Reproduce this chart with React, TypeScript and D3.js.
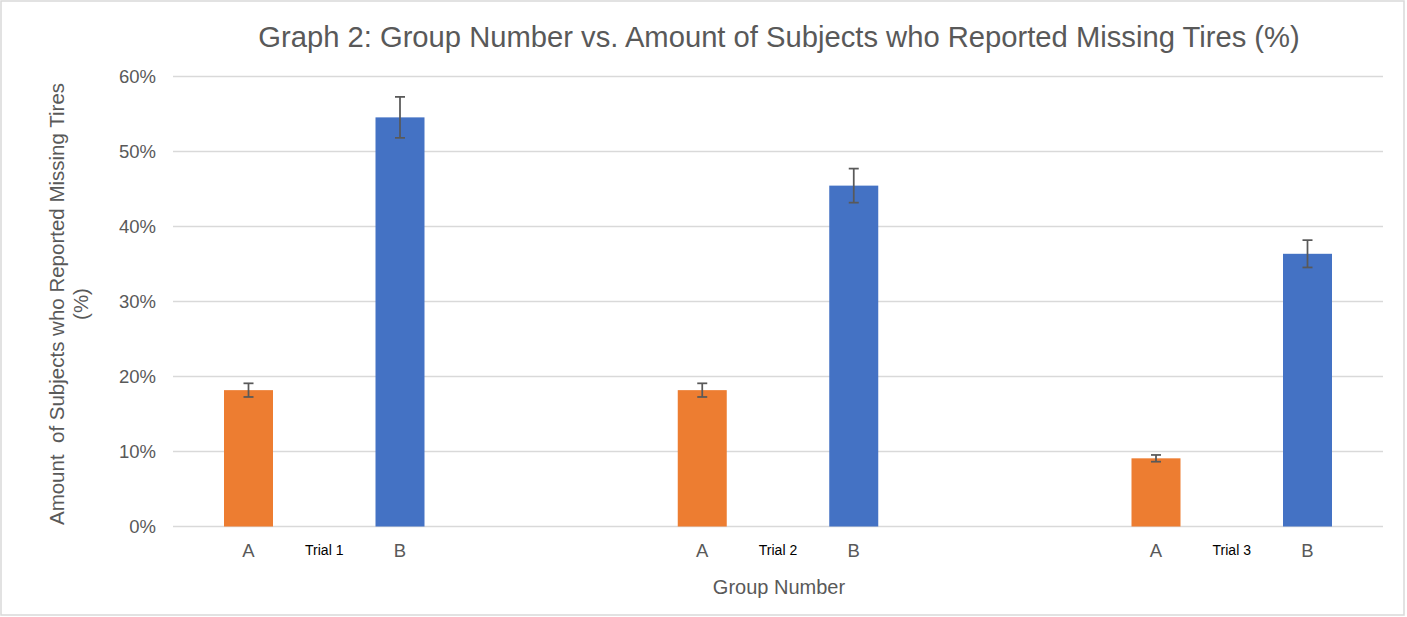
import React from "react";
import * as d3 from "d3";

const trials = ["Trial 1", "Trial 2", "Trial 3"];
const groups = ["A", "", "B"];
const valuesA = [18.18, 18.18, 9.09];
const valuesB = [54.55, 45.45, 36.36];
const errorsA = [0.91, 0.91, 0.45];
const errorsB = [2.73, 2.27, 1.82];
const yTicks = [0, 10, 20, 30, 40, 50, 60];

const W = 1407;
const H = 617;
const FONT = "'Liberation Sans', Arial, sans-serif";
const GRAY = "#595959";
const ORANGE = "#ED7D31";
const BLUE = "#4472C4";

export default function App() {
  const plotLeft = 173;
  const plotRight = 1383;
  const y = d3.scaleLinear().domain([0, 60]).range([526.5, 76.5]);
  const xTrial = d3.scalePoint<string>().domain(trials).range([324.25, 1231.75]);
  const xSub = d3.scalePoint<string>().domain(groups).range([-75.75, 75.75]);
  const barW = 49;

  const bars: { trial: string; grp: string; v: number; e: number; color: string }[] = [];
  trials.forEach((t, i) => {
    bars.push({ trial: t, grp: "A", v: valuesA[i], e: errorsA[i], color: ORANGE });
    bars.push({ trial: t, grp: "B", v: valuesB[i], e: errorsB[i], color: BLUE });
  });

  const cx = (t: string, g: string) => (xTrial(t) as number) + (xSub(g) as number);

  return (
    <svg
      width={W}
      height={H}
      style={{ position: "absolute", left: 0, top: 0, display: "block", background: "#fff" }}
      fontFamily={FONT}
    >
      <rect x={1} y={1} width={W - 4} height={H - 3} fill="#fff" stroke="#d9d9d9" strokeWidth={1.5} />
      <text x={779} y={47} textAnchor="middle" fontSize={29.2} fill={GRAY}>
        Graph 2: Group Number vs. Amount of Subjects who Reported Missing Tires (%)
      </text>
      {yTicks.map((t) => (
        <g key={t}>
          <line x1={plotLeft} x2={plotRight} y1={y(t)} y2={y(t)} stroke="#d9d9d9" strokeWidth={1.5} />
          <text x={156} y={y(t)} dy="0.35em" textAnchor="end" fontSize={18.5} fill={GRAY}>
            {t}%
          </text>
        </g>
      ))}
      {bars.map((b, i) => {
        const c = cx(b.trial, b.grp);
        return (
          <g key={i}>
            <rect x={c - barW / 2} y={y(b.v)} width={barW} height={y(0) - y(b.v)} fill={b.color} />
            <line x1={c} x2={c} y1={y(b.v + b.e)} y2={y(b.v - b.e)} stroke={GRAY} strokeWidth={1.75} />
            <line x1={c - 5} x2={c + 5} y1={y(b.v + b.e)} y2={y(b.v + b.e)} stroke={GRAY} strokeWidth={1.75} />
            <line x1={c - 5} x2={c + 5} y1={y(b.v - b.e)} y2={y(b.v - b.e)} stroke={GRAY} strokeWidth={1.75} />
          </g>
        );
      })}
      {trials.map((t) => (
        <g key={t}>
          {groups.map((g) =>
            g ? (
              <text key={g} x={cx(t, g)} y={556.5} textAnchor="middle" fontSize={18.5} fill={GRAY}>
                {g}
              </text>
            ) : (
              <text key="t" x={cx(t, g)} y={554.5} textAnchor="middle" fontSize={14} fill="#000">
                {t}
              </text>
            )
          )}
        </g>
      ))}
      <text x={779} y={594} textAnchor="middle" fontSize={20} fill={GRAY}>
        Group Number
      </text>
      <g transform={`translate(64,304) rotate(-90)`}>
        <text x={0} y={0} textAnchor="middle" fontSize={20.5} fill={GRAY} style={{ whiteSpace: "pre" }}>
          {"Amount  of Subjects who Reported Missing Tires"}
        </text>
        <text x={0} y={24} textAnchor="middle" fontSize={20.5} fill={GRAY}>
          (%)
        </text>
      </g>
    </svg>
  );
}
